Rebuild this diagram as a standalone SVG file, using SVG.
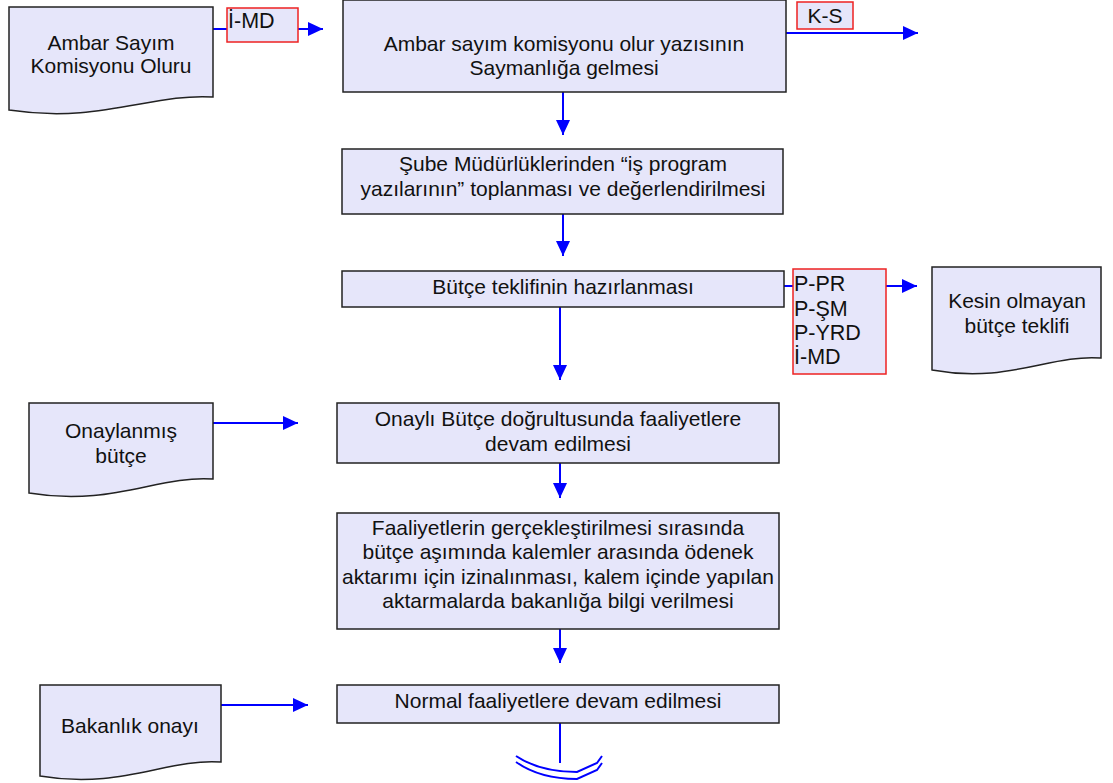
<svg xmlns="http://www.w3.org/2000/svg" width="1113" height="783" viewBox="0 0 1113 783">
<style>
.box{fill:#e6e6fa;stroke:#222;stroke-width:1.5}
.tag{fill:#e6e6fa;stroke:#ee2222;stroke-width:1.5}
.t{font-family:"Liberation Sans",Arial,sans-serif;font-size:21px;fill:#111;text-anchor:middle}
.tl{font-family:"Liberation Sans",Arial,sans-serif;font-size:21.5px;fill:#111}
.c{stroke:#0000ff;stroke-width:2;fill:none}
</style>
<defs>
<marker id="ah" markerUnits="userSpaceOnUse" markerWidth="16" markerHeight="14" refX="15" refY="7" orient="auto">
<path d="M0,0 L15,7 L0,14 z" fill="#0000ff"/>
</marker>
</defs>
<rect width="1113" height="783" fill="#fff"/>
<g id="connectors">
<path class="c" d="M213,29 H323" marker-end="url(#ah)"/>
<path class="c" d="M786,33 H918" marker-end="url(#ah)"/>
<path class="c" d="M563,92 V135" marker-end="url(#ah)"/>
<path class="c" d="M563,214 V256" marker-end="url(#ah)"/>
<path class="c" d="M784,286 H917" marker-end="url(#ah)"/>
<path class="c" d="M560,307 V380" marker-end="url(#ah)"/>
<path class="c" d="M213,423 H298" marker-end="url(#ah)"/>
<path class="c" d="M560,463 V498" marker-end="url(#ah)"/>
<path class="c" d="M560,629 V663" marker-end="url(#ah)"/>
<path class="c" d="M221,705 H308" marker-end="url(#ah)"/>
<path class="c" d="M560,723 V763"/>
</g>
<g id="offpage">
<path class="c" d="M516,756 Q540,772 577,772 L597,763 L602,756"/>
<path class="c" d="M516,762 Q540,779 577,779 L597,770 L602,763"/>
</g>
<g id="doc1">
<path class="box" d="M9,7 H213 V97 C152,93 100,124 9,110 Z"/>
<text class="t" x="111" y="50">Ambar Sayım</text>
<text class="t" x="111" y="73">Komisyonu Oluru</text>
</g>
<g id="tag-imd">
<rect class="tag" x="227" y="8" width="71" height="34"/>
<text class="tl" x="228" y="28">İ-MD</text>
</g>
<g id="box2">
<rect class="box" x="343" y="0" width="443" height="92"/>
<text class="t" x="564" y="51">Ambar sayım komisyonu olur yazısının</text>
<text class="t" x="564" y="75">Saymanlığa gelmesi</text>
</g>
<g id="tag-ks">
<rect class="tag" x="797" y="2" width="56" height="27"/>
<text class="t" x="825" y="23">K-S</text>
</g>
<g id="box3">
<rect class="box" x="342" y="149" width="441" height="65"/>
<text class="t" x="563" y="171">Şube Müdürlüklerinden “iş program</text>
<text class="t" x="563" y="196">yazılarının” toplanması ve değerlendirilmesi</text>
</g>
<g id="box4">
<rect class="box" x="342" y="271" width="442" height="36"/>
<text class="t" x="563" y="294">Bütçe teklifinin hazırlanması</text>
</g>
<g id="tag-multi">
<rect class="tag" x="793" y="269" width="93" height="105"/>
<text class="tl" x="794" y="291">P-PR</text>
<text class="tl" x="794" y="316">P-ŞM</text>
<text class="tl" x="794" y="340">P-YRD</text>
<text class="tl" x="794" y="364">İ-MD</text>
</g>
<g id="doc-kesin">
<path class="box" d="M932,267 H1101 V358 C1050,354 1008,384 932,370 Z"/>
<text class="t" x="1017" y="308">Kesin olmayan</text>
<text class="t" x="1017" y="333">bütçe teklifi</text>
</g>
<g id="doc-onay">
<path class="box" d="M29,403 H213 V479 C158,475 112,507 29,493 Z"/>
<text class="t" x="121" y="438">Onaylanmış</text>
<text class="t" x="121" y="463">bütçe</text>
</g>
<g id="box5">
<rect class="box" x="337" y="403" width="442" height="60"/>
<text class="t" x="558" y="426">Onaylı Bütçe doğrultusunda faaliyetlere</text>
<text class="t" x="558" y="451">devam edilmesi</text>
</g>
<g id="box6">
<rect class="box" x="337" y="513" width="442" height="116"/>
<text class="t" x="558" y="535">Faaliyetlerin gerçekleştirilmesi sırasında</text>
<text class="t" x="558" y="559">bütçe aşımında kalemler arasında ödenek</text>
<text class="t" x="558" y="584">aktarımı için izinalınması, kalem içinde yapılan</text>
<text class="t" x="558" y="608">aktarmalarda bakanlığa bilgi verilmesi</text>
</g>
<g id="doc-bakanlik">
<path class="box" d="M40,685 H221 V762 C167,758 121,790 40,776 Z"/>
<text class="t" x="130" y="733">Bakanlık onayı</text>
</g>
<g id="box7">
<rect class="box" x="337" y="685" width="442" height="38"/>
<text class="t" x="558" y="708">Normal faaliyetlere devam edilmesi</text>
</g>
</svg>
